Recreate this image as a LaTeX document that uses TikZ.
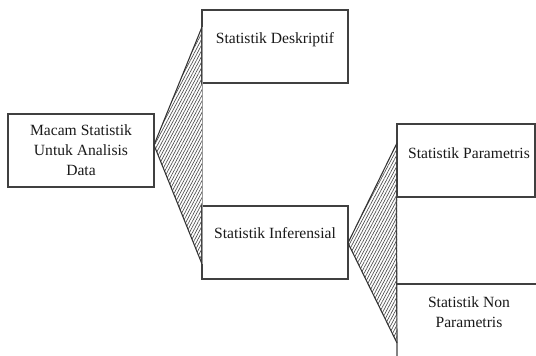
\documentclass[tikz,border=0pt]{standalone}
\usepackage{fontspec}
\setmainfont{Liberation Serif}
\usetikzlibrary{patterns.meta}

\begin{document}
\begin{tikzpicture}[x=0.75pt,y=-0.75pt,
 box/.style={draw=black!75,line width=0.9pt,inner sep=0pt},
 edge/.style={draw=black!80,line width=0.8pt},
 lbl/.style={align=center,font=\fontsize{11.7}{15}\selectfont,text=black!90,inner sep=0pt},
 hatch/.style={pattern={Lines[angle=62,distance=2pt,line width=0.5pt]},pattern color=black!70}]
 \useasboundingbox (0,0) rectangle (536,356);
 % boxes
 \node[box,minimum width=109.5pt,minimum height=54.75pt] (macam) at (81,150.5) {};
 \node[box,minimum width=109.5pt,minimum height=54.75pt] (deskriptif) at (275,46.5) {};
 \node[box,minimum width=109.5pt,minimum height=54.75pt] (inferensial) at (275,242.5) {};
 \node[box,minimum width=103.5pt,minimum height=54.75pt] (parametris) at (466,160.5) {};
 \coordinate (mid-r) at (536,197);
 \coordinate (non-r) at (536,284);
 \coordinate (non-tl) at (397,284);
 \coordinate (col-bl) at (397,356);
 \draw[box] (parametris.south west) -- (col-bl);
 \draw[box] (non-tl) -- (non-r);
 \draw[box] (parametris.south east) -- (mid-r);
 % forks
 \coordinate (fork1) at (154,145);
 \coordinate (fork1-t) at (202,27);
 \coordinate (fork1-b) at (202,264);
 \coordinate (fork2) at (348,243);
 \coordinate (fork2-t) at (397,143);
 \coordinate (fork2-b) at (397,343);
 \path[hatch] (fork1) -- (fork1-t) -- (fork1-b) -- cycle;
 \path[hatch] (fork2) -- (fork2-t) -- (fork2-b) -- cycle;
 \draw[edge] (fork1-t) -- (fork1) -- (fork1-b);
 \draw[edge] (fork2-t) -- (fork2) -- (fork2-b);
 \draw[black!40,line width=0.4pt] (fork1-t) -- (fork1-b);
 % labels
 \node[lbl] (macam-t) at (macam) {Macam Statistik\\Untuk Analisis\\Data};
 \node[lbl] (deskriptif-t) at (275,40) {Statistik Deskriptif};
 \node[lbl] (inferensial-t) at (275,233) {Statistik Inferensial};
 \node[lbl] (parametris-t) at (469,153) {Statistik Parametris};
 \node[lbl] (nonpar-t) at (469,312) {Statistik Non\\Parametris};
\end{tikzpicture}
\end{document}
